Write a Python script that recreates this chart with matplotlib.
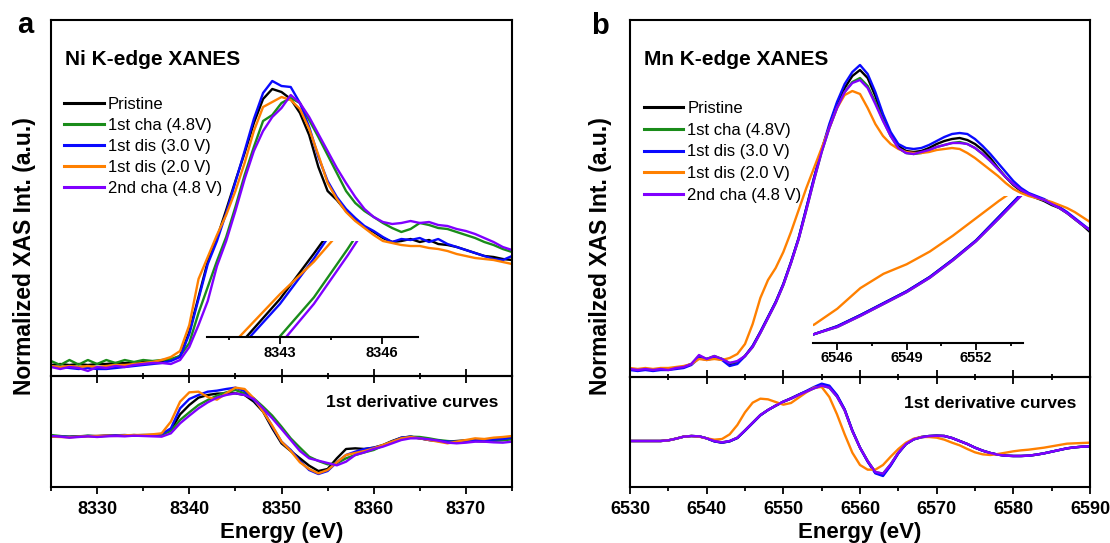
import matplotlib
matplotlib.use("Agg")
import matplotlib.pyplot as plt
from matplotlib.ticker import MultipleLocator, NullLocator

plt.rcParams["font.family"] = ["Liberation Sans", "DejaVu Sans"]
plt.rcParams["font.weight"] = "bold"

labels = ["Pristine", "1st cha (4.8V)", "1st dis (3.0 V)", "1st dis (2.0 V)", "2nd cha (4.8 V)"]
colors = ["#000000", "#1a8c1a", "#0a0aff", "#ff8000", "#8000ff"]

# ---------------- Ni K-edge (1 eV steps) ----------------
ni_energy = list(range(8325, 8376))

ni_pristine = [0.01, 0.015, 0.01, 0.015, 0.01, 0.015, 0.015, 0.02, 0.02, 0.02,
               0.025, 0.025, 0.03, 0.035, 0.055, 0.175, 0.35, 0.527, 0.645, 0.785,
               0.93, 1.07, 1.22, 1.34, 1.39, 1.375, 1.34, 1.27, 1.16, 1.0,
               0.88, 0.835, 0.78, 0.735, 0.70, 0.675, 0.645, 0.625, 0.63, 0.64,
               0.625, 0.635, 0.615, 0.61, 0.60, 0.585, 0.57, 0.555, 0.55, 0.54,
               0.535]
ni_cha1 = [0.03, 0.01, 0.035, 0.012, 0.035, 0.015, 0.035, 0.02, 0.035, 0.025,
           0.035, 0.03, 0.035, 0.04, 0.055, 0.12, 0.27, 0.40, 0.53, 0.65,
           0.80, 0.96, 1.10, 1.23, 1.26, 1.32, 1.345, 1.32, 1.235, 1.15,
           1.06, 0.97, 0.88, 0.82, 0.78, 0.75, 0.72, 0.695, 0.675, 0.69,
           0.72, 0.71, 0.695, 0.69, 0.675, 0.66, 0.645, 0.625, 0.61, 0.59,
           0.575]
ni_dis3 = [0.005, 0.0, -0.005, -0.01, -0.005, -0.01, -0.01, -0.005, 0.0, 0.005,
           0.01, 0.015, 0.02, 0.03, 0.05, 0.165, 0.34, 0.515, 0.63, 0.77,
           0.925, 1.08, 1.24, 1.37, 1.43, 1.405, 1.40, 1.32, 1.20, 1.05,
           0.93, 0.85, 0.79, 0.745, 0.705, 0.68, 0.65, 0.625, 0.64, 0.635,
           0.645, 0.625, 0.64, 0.615, 0.60, 0.585, 0.57, 0.555, 0.54, 0.535,
           0.555]
ni_dis2 = [0.005, 0.0, 0.005, 0.0, 0.005, 0.0, 0.005, 0.01, 0.01, 0.015,
           0.02, 0.025, 0.035, 0.05, 0.08, 0.21, 0.44, 0.55, 0.66, 0.76,
           0.88, 1.02, 1.18, 1.30, 1.325, 1.35, 1.335, 1.29, 1.19, 1.06,
           0.92, 0.84, 0.775, 0.73, 0.695, 0.66, 0.63, 0.62, 0.61, 0.605,
           0.605, 0.595, 0.59, 0.58, 0.565, 0.555, 0.545, 0.54, 0.535, 0.525,
           0.515]
ni_cha2 = [0.0, -0.01, 0.0, -0.005, -0.02, 0.0, -0.005, 0.005, 0.0, 0.01,
           0.015, 0.02, 0.02, 0.015, 0.035, 0.10, 0.21, 0.33, 0.505, 0.63,
           0.78, 0.94, 1.08, 1.18, 1.25, 1.295, 1.36, 1.32, 1.25, 1.165,
           1.08, 0.995, 0.92, 0.85, 0.79, 0.75, 0.725, 0.715, 0.72, 0.73,
           0.72, 0.725, 0.71, 0.705, 0.69, 0.68, 0.665, 0.645, 0.625, 0.60,
           0.585]

ni_d_pristine = [-0.01, -0.02, -0.02, -0.01, 0, 0, 0.01, 0.01, 0.02, 0.02,
                 0.03, 0.03, 0.05, 0.18, 0.65, 0.93, 1.15, 1.23, 1.27, 1.28,
                 1.28, 1.23, 1.03, 0.73, 0.23, -0.22, -0.45, -0.67, -0.89, -1.05,
                 -0.99, -0.67, -0.39, -0.37, -0.39, -0.35, -0.27, -0.15, -0.05, -0.02,
                 -0.07, -0.12, -0.15, -0.17, -0.15, -0.13, -0.12, -0.13, -0.11, -0.09,
                 -0.07]
ni_d_cha1 = [0.03, 0, -0.03, -0.01, 0.01, -0.01, 0, 0.02, 0.01, 0.03,
             0.01, 0.02, 0.04, 0.15, 0.48, 0.71, 0.93, 1.08, 1.21, 1.31,
             1.38, 1.28, 1.13, 0.88, 0.61, 0.28, -0.07, -0.35, -0.62, -0.75,
             -0.85, -0.82, -0.67, -0.57, -0.49, -0.42, -0.29, -0.17, -0.07, -0.02,
             -0.03, -0.07, -0.12, -0.15, -0.17, -0.17, -0.15, -0.17, -0.15, -0.13,
             -0.10]
ni_d_dis3 = [0, -0.02, -0.03, -0.02, 0, -0.01, 0.01, 0.02, 0.03, 0.01,
             0.02, 0.03, 0.06, 0.23, 0.83, 1.11, 1.23, 1.33, 1.36, 1.41,
             1.45, 1.35, 1.08, 0.78, 0.28, -0.17, -0.42, -0.75, -1.02, -1.14,
             -1.05, -0.79, -0.57, -0.47, -0.39, -0.35, -0.29, -0.17, -0.05, -0.02,
             -0.07, -0.12, -0.14, -0.17, -0.17, -0.15, -0.13, -0.12, -0.11, -0.09,
             -0.05]
ni_d_dis2 = [-0.02, -0.03, -0.04, -0.02, -0.01, 0, 0.01, 0, 0.02, 0.03,
             0.03, 0.05, 0.08, 0.43, 1.03, 1.31, 1.33, 1.17, 1.09, 1.28,
             1.45, 1.41, 1.13, 0.73, 0.31, -0.17, -0.45, -0.79, -0.99, -1.12,
             -1.02, -0.79, -0.57, -0.51, -0.45, -0.37, -0.27, -0.17, -0.07, -0.03,
             -0.07, -0.12, -0.17, -0.22, -0.17, -0.12, -0.07, -0.09, -0.05, -0.03,
             0.0]
ni_d_cha2 = [0, -0.02, -0.05, -0.03, -0.01, -0.03, -0.01, 0, -0.01, 0.01,
             0, -0.01, -0.02, 0.08, 0.38, 0.61, 0.83, 1.01, 1.15, 1.23,
             1.28, 1.23, 1.11, 0.83, 0.53, 0.21, -0.12, -0.45, -0.67, -0.74,
             -0.81, -0.88, -0.77, -0.57, -0.49, -0.39, -0.32, -0.22, -0.12, -0.07,
             -0.07, -0.10, -0.14, -0.20, -0.22, -0.20, -0.17, -0.17, -0.19, -0.20,
             -0.17]

# ---------------- Mn K-edge (1 eV steps) ----------------
mn_energy = list(range(6530, 6591))

mn_pristine = [-0.005, -0.01, -0.005, -0.01, -0.005, -0.005, 0.0, 0.005, 0.02, 0.055,
               0.045, 0.055, 0.045, 0.02, 0.025, 0.06, 0.11, 0.18, 0.255, 0.33,
               0.42, 0.53, 0.65, 0.80, 0.95, 1.09, 1.21, 1.32, 1.40, 1.46,
               1.49, 1.45, 1.36, 1.25, 1.165, 1.11, 1.085, 1.08, 1.085, 1.10,
               1.12, 1.135, 1.145, 1.15, 1.14, 1.12, 1.09, 1.05, 1.0, 0.955,
               0.915, 0.885, 0.865, 0.85, 0.835, 0.815, 0.80, 0.775, 0.745, 0.715,
               0.68]
mn_cha1 = [-0.005, -0.01, -0.005, -0.01, -0.005, -0.005, 0.0, 0.005, 0.02, 0.06,
           0.045, 0.06, 0.045, 0.025, 0.03, 0.06, 0.105, 0.175, 0.25, 0.325,
           0.415, 0.525, 0.645, 0.79, 0.94, 1.08, 1.20, 1.30, 1.38, 1.43,
           1.45, 1.41, 1.33, 1.24, 1.16, 1.10, 1.075, 1.07, 1.075, 1.09,
           1.105, 1.115, 1.125, 1.13, 1.12, 1.10, 1.07, 1.035, 0.995, 0.955,
           0.92, 0.89, 0.87, 0.855, 0.84, 0.82, 0.80, 0.775, 0.745, 0.715,
           0.69]
mn_dis3 = [-0.01, -0.015, -0.01, -0.015, -0.01, -0.01, -0.005, 0.0, 0.015, 0.05,
           0.04, 0.05, 0.04, 0.01, 0.02, 0.06, 0.11, 0.18, 0.255, 0.33,
           0.42, 0.53, 0.65, 0.80, 0.95, 1.09, 1.22, 1.33, 1.42, 1.48,
           1.515, 1.47, 1.38, 1.27, 1.18, 1.12, 1.10, 1.095, 1.10, 1.115,
           1.135, 1.155, 1.17, 1.175, 1.17, 1.145, 1.11, 1.07, 1.025, 0.98,
           0.935, 0.90, 0.875, 0.86, 0.845, 0.825, 0.805, 0.78, 0.75, 0.72,
           0.69]
mn_dis2 = [0.0, -0.005, 0.0, -0.005, 0.0, 0.0, 0.005, 0.01, 0.02, 0.045,
           0.04, 0.045, 0.04, 0.05, 0.07, 0.12, 0.22, 0.35, 0.44, 0.50,
           0.58, 0.68, 0.79, 0.90, 1.00, 1.10, 1.20, 1.30, 1.365, 1.385,
           1.37, 1.30, 1.22, 1.16, 1.12, 1.095, 1.08, 1.075, 1.075, 1.08,
           1.09, 1.095, 1.10, 1.095, 1.075, 1.05, 1.02, 0.99, 0.96, 0.925,
           0.895, 0.875, 0.86, 0.85, 0.84, 0.83, 0.815, 0.80, 0.78, 0.755,
           0.73]
mn_cha2 = [-0.005, -0.01, -0.005, -0.01, -0.005, -0.01, 0.0, 0.005, 0.02, 0.065,
           0.045, 0.06, 0.045, 0.025, 0.035, 0.06, 0.105, 0.175, 0.25, 0.325,
           0.415, 0.525, 0.645, 0.79, 0.94, 1.08, 1.20, 1.30, 1.38, 1.425,
           1.44, 1.40, 1.32, 1.235, 1.16, 1.10, 1.075, 1.07, 1.08, 1.09,
           1.105, 1.115, 1.125, 1.125, 1.12, 1.10, 1.07, 1.035, 0.995, 0.955,
           0.92, 0.89, 0.87, 0.855, 0.84, 0.82, 0.80, 0.775, 0.745, 0.715,
           0.69]

mn_d_pristine = [0, 0, 0, 0, 0, 0.02, 0.07, 0.13, 0.15, 0.14,
                 0.08, -0.01, -0.05, -0.01, 0.09, 0.31, 0.54, 0.77, 0.93, 1.06,
                 1.18, 1.28, 1.39, 1.49, 1.60, 1.68, 1.63, 1.36, 0.94, 0.31,
                 -0.20, -0.61, -0.95, -1.02, -0.72, -0.36, -0.09, 0.05, 0.12, 0.15,
                 0.16, 0.15, 0.09, 0.0, -0.09, -0.20, -0.29, -0.36, -0.41, -0.44,
                 -0.45, -0.45, -0.44, -0.41, -0.37, -0.32, -0.27, -0.22, -0.19, -0.17,
                 -0.16]
mn_d_cha1 = [0, 0, 0, 0, 0, 0.02, 0.07, 0.13, 0.15, 0.14,
             0.08, 0.0, -0.04, 0.0, 0.10, 0.32, 0.55, 0.78, 0.93, 1.06,
             1.18, 1.27, 1.38, 1.48, 1.58, 1.66, 1.60, 1.33, 0.92, 0.30,
             -0.20, -0.60, -0.93, -0.98, -0.70, -0.35, -0.09, 0.05, 0.11, 0.145,
             0.155, 0.15, 0.09, 0.0, -0.09, -0.20, -0.29, -0.36, -0.41, -0.44,
             -0.45, -0.45, -0.44, -0.41, -0.37, -0.32, -0.27, -0.22, -0.19, -0.17,
             -0.16]
mn_d_dis3 = [0, 0, 0, 0, 0, 0.02, 0.07, 0.13, 0.15, 0.14,
             0.08, -0.01, -0.05, -0.01, 0.09, 0.31, 0.54, 0.77, 0.93, 1.06,
             1.18, 1.28, 1.39, 1.50, 1.62, 1.72, 1.66, 1.38, 0.95, 0.32,
             -0.20, -0.62, -0.97, -1.05, -0.74, -0.37, -0.09, 0.05, 0.12, 0.15,
             0.16, 0.15, 0.09, 0.0, -0.09, -0.20, -0.29, -0.36, -0.41, -0.44,
             -0.45, -0.45, -0.44, -0.41, -0.37, -0.32, -0.27, -0.22, -0.19, -0.17,
             -0.16]
mn_d_dis2 = [0, 0, 0, 0, 0, 0.02, 0.07, 0.13, 0.15, 0.13,
             0.08, 0.04, 0.06, 0.20, 0.48, 0.86, 1.15, 1.27, 1.25, 1.17,
             1.09, 1.14, 1.30, 1.46, 1.60, 1.62, 1.32, 0.80, 0.20, -0.35,
             -0.72, -0.86, -0.86, -0.72, -0.47, -0.24, -0.05, 0.07, 0.12, 0.12,
             0.10, 0.04, -0.05, -0.13, -0.24, -0.34, -0.40, -0.42, -0.39, -0.35,
             -0.31, -0.28, -0.26, -0.23, -0.20, -0.16, -0.12, -0.08, -0.07, -0.06,
             -0.05]
mn_d_cha2 = [0, 0, 0, 0, 0, 0.02, 0.07, 0.13, 0.15, 0.14,
             0.08, 0.0, -0.04, 0.0, 0.10, 0.32, 0.55, 0.78, 0.93, 1.06,
             1.18, 1.27, 1.38, 1.48, 1.58, 1.66, 1.60, 1.33, 0.92, 0.30,
             -0.20, -0.60, -0.93, -0.98, -0.70, -0.35, -0.09, 0.05, 0.11, 0.145,
             0.155, 0.15, 0.09, 0.0, -0.09, -0.20, -0.29, -0.36, -0.41, -0.44,
             -0.45, -0.45, -0.44, -0.41, -0.37, -0.32, -0.27, -0.22, -0.19, -0.17,
             -0.16]

W, H = 1110, 543
LW = 1.7


def rect(x0, y0, x1, y1):
    # pixel box (top-left origin) -> figure fraction
    return [x0 / W, 1 - y1 / H, (x1 - x0) / W, (y1 - y0) / H]


def pannello(fig, box, energy, xanes, deriv, xlim, ylim_top, ylim_der,
             inset_box, inset_xlim, inset_ylim, title, leg_pos, leg_spacing):
    x0, y0, ymid, x1, y1 = box
    ax = fig.add_axes(rect(x0, y0, x1, ymid), facecolor="none")
    axd = fig.add_axes(rect(x0, ymid, x1, y1), facecolor="none")

    lines = []
    for ys, c, lab in zip(xanes, colors, labels):
        (ln,) = ax.plot(energy, ys, color=c, lw=LW, label=lab)
        lines.append(ln)
    for ys, c in zip(deriv, colors):
        axd.plot(energy, ys, color=c, lw=LW)

    for a in (ax, axd):
        a.set_xlim(*xlim)
        a.xaxis.set_major_locator(MultipleLocator(10))
        a.xaxis.set_minor_locator(MultipleLocator(5))
        a.yaxis.set_major_locator(NullLocator())
        for s in a.spines.values():
            s.set_linewidth(1.5)
    ax.set_ylim(*ylim_top)
    axd.set_ylim(*ylim_der)

    # ticks on the shared border point into both panels
    ax.tick_params(axis="x", which="both", direction="inout", bottom=True,
                   top=False, labelbottom=False, width=1.3)
    ax.tick_params(axis="x", which="major", length=9.5)
    ax.tick_params(axis="x", which="minor", length=5)
    axd.tick_params(axis="x", which="both", direction="out", width=1.3,
                    labelsize=13, pad=5.5)
    axd.tick_params(axis="x", which="major", length=4.8)
    axd.tick_params(axis="x", which="minor", length=2.6)

    ax.text(0.03, 0.89, title, transform=ax.transAxes, fontsize=15,
            ha="left", va="center")
    axd.text(0.97, 0.76, "1st derivative curves", transform=axd.transAxes,
             fontsize=12.5, ha="right", va="center")

    leg = ax.legend(lines, labels, loc="upper left", bbox_to_anchor=leg_pos,
                    frameon=False, borderpad=0, borderaxespad=0,
                    handlelength=2.35, handletextpad=0.25,
                    labelspacing=leg_spacing,
                    prop={"family": ["Liberation Sans"], "weight": "normal",
                          "size": 12})
    for h in leg.get_lines():
        h.set_linewidth(2.2)

    # inset: zoom on the edge
    axi = fig.add_axes(rect(*inset_box), facecolor="none")
    for ys, c in zip(xanes, colors):
        axi.plot(energy, ys, color=c, lw=LW)
    axi.set_xlim(*inset_xlim)
    axi.set_ylim(*inset_ylim)
    for side in ("left", "right", "top"):
        axi.spines[side].set_visible(False)
    axi.spines["bottom"].set_linewidth(1.5)
    axi.xaxis.set_major_locator(MultipleLocator(3))
    axi.xaxis.set_minor_locator(MultipleLocator(1.5))
    axi.yaxis.set_major_locator(NullLocator())
    axi.tick_params(axis="x", which="both", direction="out", width=1.3,
                    labelsize=10.5, pad=1.5)
    axi.tick_params(axis="x", which="major", length=4.8)
    axi.tick_params(axis="x", which="minor", length=2.4)

    xc = (x0 + x1) / 2
    fig.text(xc / W, 1 - 538 / H, "Energy (eV)", fontsize=16,
             ha="center", va="baseline")
    return ax


fig = plt.figure(figsize=(W / 100, H / 100), dpi=100)

pannello(fig, (51, 20, 376, 512, 487), ni_energy,
         [ni_pristine, ni_cha1, ni_dis3, ni_dis2, ni_cha2],
         [ni_d_pristine, ni_d_cha1, ni_d_dis3, ni_d_dis2, ni_d_cha2],
         (8325, 8375), (-0.045, 1.735), (-1.53, 1.80),
         (206.7, 241, 418, 337.3), (8340.84, 8347.07), (0.527, 0.824),
         "Ni K-edge XANES", (0.029, 0.784), 0.36)

pannello(fig, (630, 20, 377, 1090, 487), mn_energy,
         [mn_pristine, mn_cha1, mn_dis3, mn_dis2, mn_cha2],
         [mn_d_pristine, mn_d_cha1, mn_d_dis3, mn_d_dis2, mn_d_cha2],
         (6530, 6590), (-0.045, 1.74), (-1.38, 1.92),
         (813, 196, 1022.7, 342.7), (6544.95, 6554.02), (0.006, 0.93),
         "Mn K-edge XANES", (0.03, 0.774), 0.41)

fig.text(24.6 / W, 1 - 256 / H, "Normalized XAS Int. (a.u.)", rotation=90,
         fontsize=16.5, ha="center", va="center")
fig.text(601 / W, 1 - 256 / H, "Normailzed XAS Int. (a.u.)", rotation=90,
         fontsize=16.5, ha="center", va="center")
fig.text(25 / W, 1 - 25 / H, "a", fontsize=21, ha="center", va="center")
fig.text(600 / W, 1 - 26 / H, "b", fontsize=21, ha="center", va="center")

fig.savefig("out.png", dpi=100, facecolor="white")
